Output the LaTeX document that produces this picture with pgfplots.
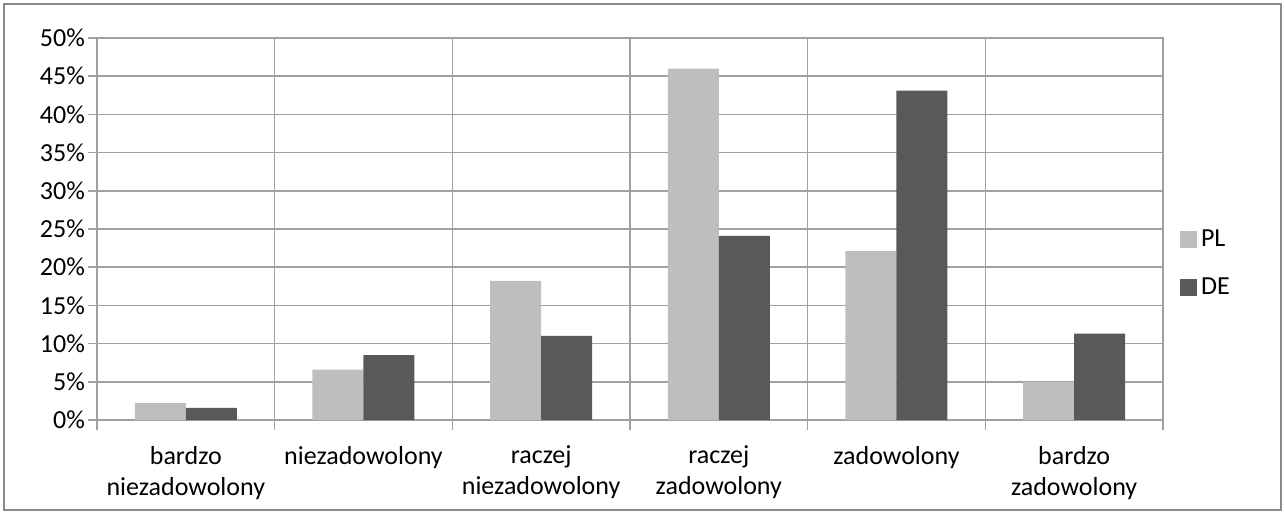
\documentclass[border=0pt]{standalone}
\usepackage{pgfplots}
\pgfplotsset{compat=1.18}
\usepackage{fontspec}
\setmainfont{Carlito}
\definecolor{plgray}{HTML}{BEBEBE}
\definecolor{degray}{HTML}{595959}
\definecolor{gridgray}{HTML}{A0A0A0}
\definecolor{framegray}{HTML}{8A8A8A}

\begin{document}
\begin{tikzpicture}[font=\fontsize{13}{15.5}\selectfont]
% page = 1285 x 514 px at 0.5pt per px
\useasboundingbox (-48.5pt,-47pt) rectangle (594pt,210pt);
\draw[framegray, line width=1pt] (-46.5pt,-45pt) rectangle (592pt,208pt);
\begin{axis}[
    scale only axis,
    width=533pt, height=191pt,
    ybar=0pt, bar width=25.5pt,
    xmin=-0.5, xmax=5.5,
    ymin=0, ymax=50,
    xtick={0,1,2,3,4,5},
    xticklabels={bardzo\\niezadowolony, niezadowolony, raczej\\niezadowolony,
                 raczej\\zadowolony, zadowolony, bardzo\\zadowolony},
    minor xtick={-0.5,0.5,1.5,2.5,3.5,4.5,5.5},
    ytick={0,5,10,15,20,25,30,35,40,45,50},
    yticklabels={0\%,5\%,10\%,15\%,20\%,25\%,30\%,35\%,40\%,45\%,50\%},
    xminorgrids, ymajorgrids,
    grid style={gridgray, line width=0.75pt},
    minor grid style={gridgray, line width=0.75pt},
    axis line style={gridgray, line width=0.75pt},
    tick align=outside,
    major tick length=4.5pt, minor tick length=5pt,
    xtick pos=bottom, ytick pos=left,
    every tick/.style={gridgray, line width=0.75pt},
    major x tick style={draw=none},
    xticklabel style={align=center, anchor=north, yshift=-5pt},
    yticklabel style={xshift=2pt},
    legend style={at={(1.01,0.41)}, anchor=west, draw=none, fill=none,
                  row sep=10pt, legend cell align=left,
                  nodes={inner xsep=2pt}},
    legend image code/.code={\fill[#1] (0pt,-4.25pt) rectangle (8.5pt,4.25pt);},
]
\addplot[fill=plgray, draw=none] coordinates {(0,2.2)(1,6.6)(2,18.2)(3,46.0)(4,22.1)(5,5.0)};
\addplot[fill=degray, draw=none] coordinates {(0,1.6)(1,8.5)(2,11.0)(3,24.1)(4,43.1)(5,11.3)};
\legend{PL,DE}
\end{axis}
\end{tikzpicture}
\end{document}
